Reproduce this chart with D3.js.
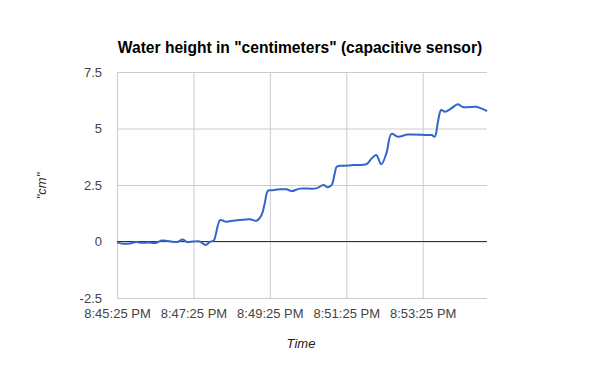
<!DOCTYPE html>
<html>
<head>
<meta charset="utf-8">
<script src="https://cdn.jsdelivr.net/npm/d3@7"></script>
<style>
  body { margin: 0; background: #fff; }
  text { font-family: Arial, "Liberation Sans", sans-serif; }
</style>
</head>
<body>
<div id="graf"></div>
<script>
// readings: time of day and water height in cm
var times = [
  "20:45:25", "20:45:35", "20:45:45", "20:45:55", "20:46:05", "20:46:15", "20:46:25",
  "20:46:35", "20:46:45", "20:47:00", "20:47:08", "20:47:15", "20:47:25", "20:47:35",
  "20:47:44", "20:47:51", "20:47:57", "20:48:00", "20:48:07", "20:48:15", "20:48:22",
  "20:48:38", "20:48:54", "20:49:04", "20:49:12", "20:49:17", "20:49:22", "20:49:28",
  "20:49:41", "20:49:51", "20:49:59", "20:50:12", "20:50:38", "20:50:49", "20:50:56",
  "20:51:02", "20:51:07", "20:51:10", "20:51:20", "20:51:36", "20:51:57", "20:52:05",
  "20:52:12", "20:52:20", "20:52:28", "20:52:36", "20:52:46", "20:53:02", "20:53:31",
  "20:53:39", "20:53:44", "20:53:49", "20:53:54", "20:54:00", "20:54:10", "20:54:20",
  "20:54:28", "20:54:49", "20:54:57", "20:55:06"
];
var heights = [
  -0.04, -0.1, -0.09, -0.02, -0.06, -0.04, -0.07,
  0.04, 0.02, -0.02, 0.09, -0.02, 0, 0,
  -0.15, -0.02, 0.05, 0.3, 0.95, 0.88, 0.9,
  0.95, 0.98, 0.92, 1.17, 1.69, 2.25, 2.27,
  2.31, 2.31, 2.23, 2.34, 2.35, 2.5, 2.4,
  2.5, 3.02, 3.31, 3.35, 3.38, 3.43, 3.68,
  3.83, 3.42, 3.9, 4.76, 4.64, 4.73, 4.71,
  4.71, 4.64, 5.3, 5.82, 5.74, 5.89, 6.07,
  5.95, 5.96, 5.89, 5.77
];
var yTicks = [-2.5, 0, 2.5, 5, 7.5];
var xTickLabels = ["20:45:25", "20:47:25", "20:49:25", "20:51:25", "20:53:25"];

var parseTime = d3.timeParse("%H:%M:%S");
var data = times.map((t, i) => ({ tid: parseTime(t), cm: heights[i] }));

const svg = d3.select("#graf")
  .append("svg")
  .attr("width", 600)
  .attr("height", 371);

const margin = { top: 72, left: 117, right: 113, bottom: 73 };
const width = 600 - margin.left - margin.right;
const height = 371 - margin.top - margin.bottom;

const chart = svg.append("g")
  .attr("transform", `translate(${margin.left},${margin.top})`);

const xScale = d3.scaleTime()
  .domain(d3.extent(data, d => d.tid))
  .range([0, width]);

const yScale = d3.scaleLinear()
  .domain([-2.5, 7.5])
  .range([height, 0]);

// horizontal gridlines + y labels
chart.append("g")
  .call(d3.axisLeft(yScale).tickValues(yTicks).tickSize(-width).tickPadding(15)
    .tickFormat(d => String(d)))
  .call(g => g.select(".domain").remove())
  .call(g => g.selectAll(".tick line").attr("stroke", "#cccccc"))
  .call(g => g.selectAll(".tick text")
    .attr("fill", "#444").attr("font-size", 13));

// vertical gridlines + x labels
const xTicks = xTickLabels.map(parseTime);
chart.append("g")
  .attr("transform", `translate(0,${height})`)
  .call(d3.axisBottom(xScale).tickValues(xTicks).tickSize(-height).tickPadding(11)
    .tickFormat(d3.timeFormat("%-I:%M:%S %p")))
  .call(g => g.select(".domain").remove())
  .call(g => g.selectAll(".tick line").attr("stroke", "#cccccc"))
  .call(g => g.selectAll(".tick text")
    .attr("fill", "#444").attr("font-size", 13));

// zero baseline
chart.append("line")
  .attr("x1", 0).attr("x2", width)
  .attr("y1", yScale(0)).attr("y2", yScale(0))
  .attr("stroke", "#333").attr("stroke-width", 1);

const line = d3.line()
  .x(d => xScale(d.tid))
  .y(d => yScale(d.cm))
  .curve(d3.curveCatmullRom.alpha(0.5));

chart.append("path")
  .datum(data)
  .attr("fill", "none")
  .attr("stroke", "#3366cc")
  .attr("stroke-width", 2)
  .attr("stroke-linejoin", "round")
  .attr("d", line);

// title and axis titles
svg.append("text")
  .attr("x", 300).attr("y", 53)
  .attr("text-anchor", "middle")
  .attr("font-size", 15.6).attr("font-weight", "bold")
  .text('Water height in "centimeters" (capacitive sensor)');

svg.append("text")
  .attr("x", 301).attr("y", 348)
  .attr("text-anchor", "middle")
  .attr("font-size", 13).attr("font-style", "italic")
  .attr("fill", "#222")
  .text("Time");

svg.append("text")
  .attr("transform", "translate(46,186) rotate(-90)")
  .attr("text-anchor", "middle")
  .attr("font-size", 13).attr("font-style", "italic")
  .attr("fill", "#222")
  .text('"cm"');
</script>
</body>
</html>
